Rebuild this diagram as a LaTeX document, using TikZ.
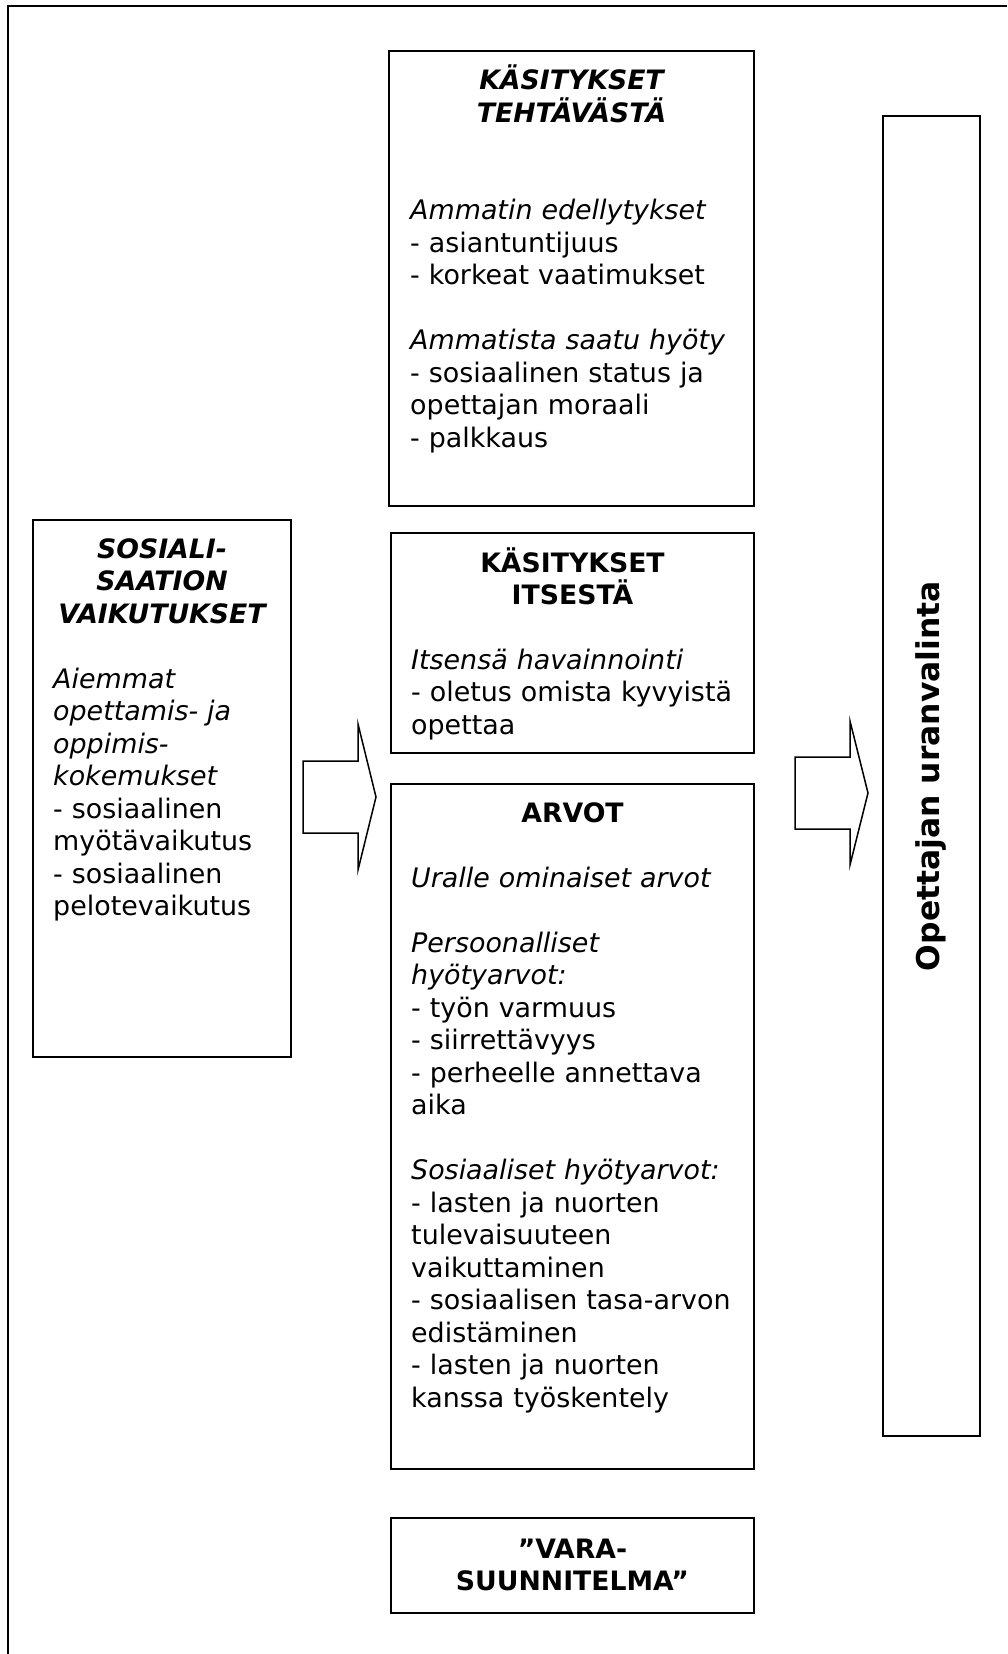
\documentclass[tikz,border=0pt]{standalone}
\usepackage{fontspec}
\setmainfont{DejaVu Sans}
\begin{document}
\begin{tikzpicture}[x=1pt,y=-1pt,
  box/.style={draw, line width=2pt, inner sep=0pt, outer sep=0pt, anchor=north west},
  txt/.style={inner sep=0pt, font=\fontsize{26.9pt}{32.5pt}\selectfont, align=left, anchor=base west, text width=340pt},
  ttl/.style={inner sep=0pt, font=\fontsize{26.7pt}{32.6pt}\selectfont\bfseries, align=center, anchor=base, text width=340pt},
  blockarrow/.style={draw, line width=1.5pt, line join=miter}]
\useasboundingbox (0,0) rectangle (1007,1654);
% outer frame (top and left edges only visible)
\coordinate (fbl) at (8,1654);
\coordinate (ftl) at (8,6);
\coordinate (ftr) at (1007,6);
\draw[line width=2pt] (fbl) -- (ftl) -- (ftr);

% boxes
\node[box, minimum width=365pt, minimum height=455pt] (tb) at (389,51) {};
\node[box, minimum width=363pt, minimum height=220pt] (ib) at (391,533) {};
\node[box, minimum width=363pt, minimum height=685pt] (ab) at (391,784) {};
\node[box, minimum width=363pt, minimum height=95pt] (vb) at (391,1518) {};
\node[box, minimum width=258pt, minimum height=537pt] (sb) at (33,520) {};
\node[box, line width=2.5pt, minimum width=97pt, minimum height=1320pt] (rb) at (883,116) {};

% top box
\node[ttl, font=\fontsize{26.7pt}{33pt}\selectfont\bfseries\itshape] (tbt) at (571.5,89) {KÄSITYKSET\\TEHTÄVÄSTÄ};
\node[txt] (tbb) at (410,219.5) {\textit{Ammatin edellytykset}\\- asiantuntijuus\\- korkeat vaatimukset\\[32.5pt]\textit{Ammatista saatu hyöty}\\- sosiaalinen status ja\\opettajan moraali\\- palkkaus};

% itsestä box
\node[ttl] (ibt) at (572.5,572) {KÄSITYKSET\\ITSESTÄ};
\node[txt] (ibb) at (411,669) {\textit{Itsensä havainnointi}\\- oletus omista kyvyistä\\opettaa};

% arvot box
\node[ttl] (abt) at (572.5,822) {ARVOT};
\node[txt] (abb) at (411,887) {\textit{Uralle ominaiset arvot}\\[32.5pt]\textit{Persoonalliset}\\\textit{hyötyarvot:}\\- työn varmuus\\- siirrettävyys\\- perheelle annettava\\aika\\[32.5pt]\textit{Sosiaaliset hyötyarvot:}\\- lasten ja nuorten\\tulevaisuuteen\\vaikuttaminen\\- sosiaalisen tasa-arvon\\edistäminen\\- lasten ja nuorten\\kanssa työskentely};

% vara box
\node[ttl] (vbt) at (572.5,1558) {”VARA-\\SUUNNITELMA”};

% sosialisaatio box
\node[ttl, text width=250pt, font=\fontsize{26.7pt}{32.5pt}\selectfont\bfseries\itshape] (sbt) at (162,558) {SOSIALI-\\SAATION\\VAIKUTUKSET};
\node[txt, text width=235pt] (sbb) at (53,688) {\textit{Aiemmat}\\\textit{opettamis- ja}\\\textit{oppimis-}\\\textit{kokemukset}\\- sosiaalinen\\myötävaikutus\\- sosiaalinen\\pelotevaikutus};

% right box text
\node[rotate=90, inner sep=0pt, font=\fontsize{31.4pt}{36pt}\selectfont\bfseries] (rbt) at ([xshift=-1pt]rb.center) {Opettajan uranvalinta};

% block arrows
\draw[blockarrow] (303,761) -- (358,761) -- (358,724) -- (376,797) -- (358,870) -- (358,833) -- (303,833) -- cycle;
\draw[blockarrow] (795,757) -- (850,757) -- (850,721) -- (868,793) -- (850,865) -- (850,829) -- (795,829) -- cycle;
\end{tikzpicture}
\end{document}
